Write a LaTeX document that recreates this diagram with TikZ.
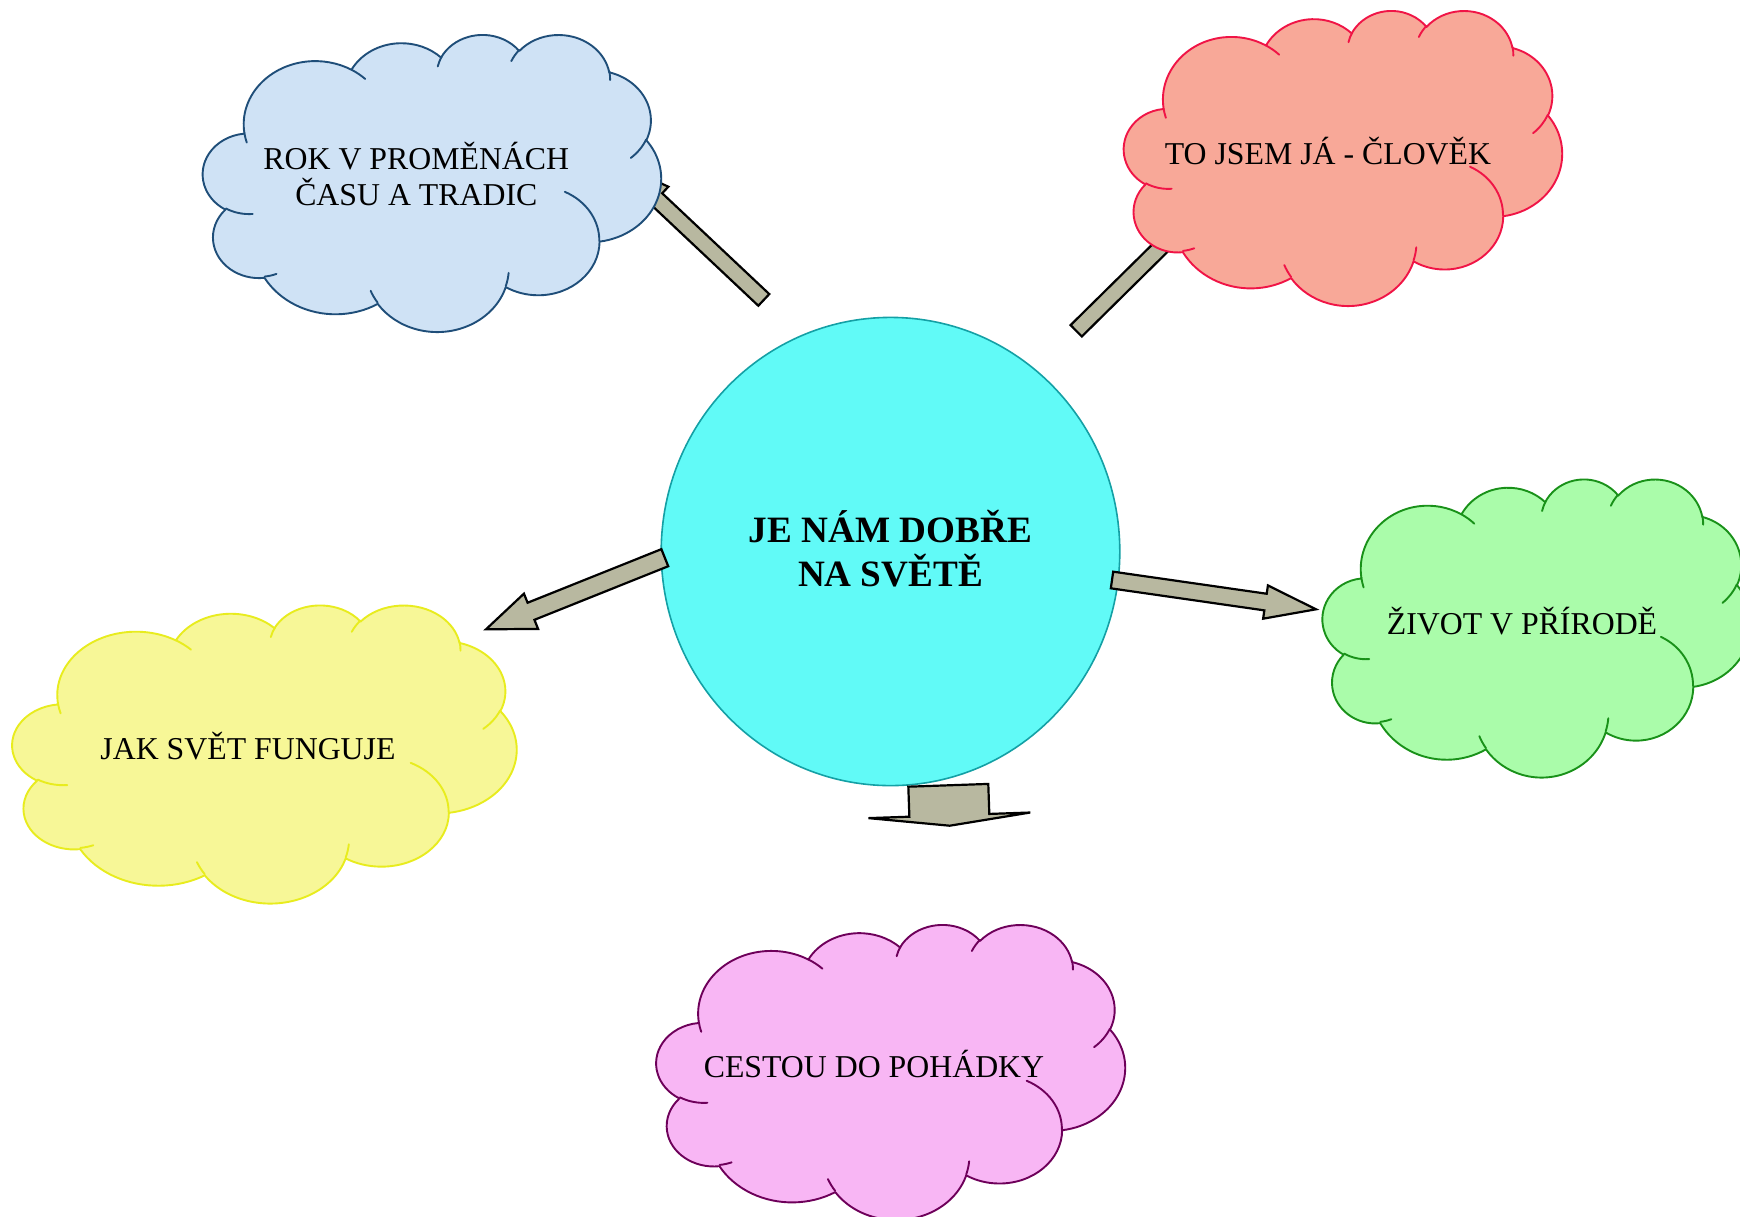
\documentclass[tikz,border=0pt]{standalone}
\usepackage{fontspec}
\setmainfont{Liberation Serif}
\usetikzlibrary{calc,shapes.geometric}
\definecolor{bluefill}{RGB}{207,226,245}
\definecolor{bluedraw}{RGB}{31,78,121}
\definecolor{salmonfill}{RGB}{248,168,152}
\definecolor{salmondraw}{RGB}{240,20,70}
\definecolor{greenfill}{RGB}{170,252,170}
\definecolor{greendraw}{RGB}{25,145,25}
\definecolor{yellowfill}{RGB}{247,247,151}
\definecolor{yellowdraw}{RGB}{232,236,30}
\definecolor{pinkfill}{RGB}{248,182,244}
\definecolor{pinkdraw}{RGB}{110,0,90}
\definecolor{cyanfill}{RGB}{97,250,247}
\definecolor{cyandraw}{RGB}{20,160,165}
\definecolor{arrowfill}{RGB}{184,184,160}
\tikzset{
  cloudtext/.style={font=\fontsize{31.8}{36.6}\selectfont, inner sep=0pt, align=center, text=black},
  maintext/.style={ellipse, draw=cyandraw, fill=cyanfill, line width=1.6pt,
    minimum width=458.6pt, minimum height=468.2pt, inner sep=0pt, align=center,
    font=\bfseries\fontsize{37.2}{43.3}\selectfont},
  blockarrow/.style={fill=arrowfill, draw=black, line width=2.2pt, line join=miter},
}
\newcommand\blockarr[5]{%
  \coordinate (tmpC) at ($(#2)!#5pt!(#1)$);
  \draw[blockarrow] ($(#1)!#3pt!90:(#2)$) -- ($(tmpC)!#3pt!90:(#2)$)
    -- ($(tmpC)!#4pt!90:(#2)$) -- (#2) -- ($(tmpC)!#4pt!-90:(#2)$)
    -- ($(tmpC)!#3pt!-90:(#2)$) -- ($(#1)!#3pt!-90:(#2)$) -- cycle;
}
\newcommand\cloudshape[6]{%
  \pgfmathsetmacro\cux{#3/43.2}%
  \pgfmathsetmacro\cuy{#4/43.2}%
  \begin{scope}[shift={(#1,#2)}, x=\cux pt, y=-\cuy pt, line width=1.9pt, line join=round]
    \filldraw[fill=#5, draw=#6] (3.9,14.37)
      arc[start angle=-187.746,end angle=-59.64,x radius=6.753,y radius=9.19]
      arc[start angle=-152.06,end angle=-45.447,x radius=5.333,y radius=7.267]
      arc[start angle=-153.49,end angle=-37.33,x radius=4.365,y radius=5.945]
      arc[start angle=-139.71,end angle=-10.21,x radius=4.857,y radius=6.595]
      arc[start angle=-74.77,end angle=23.21,x radius=5.333,y radius=7.273]
      arc[start angle=-37.53,end angle=81.86,x radius=6.775,y radius=9.22]
      arc[start angle=0.46,end angle=121.98,x radius=5.785,y radius=7.867]
      arc[start angle=16.84,end angle=146.23,x radius=6.752,y radius=9.215]
      arc[start angle=58.98,end angle=150.2,x radius=7.72,y radius=10.543]
      arc[start angle=-276.69,end angle=-136.9,x radius=4.36,y radius=5.918]
      arc[start angle=-239.65,end angle=-95.89,x radius=4.345,y radius=5.945]
      -- cycle;
    \draw[#6, line cap=round]
      (4.693,26.177) arc[start angle=85.55,end angle=120.35,x radius=4.345,y radius=5.945]
      (6.928,34.899) arc[start angle=68.24,end angle=83.31,x radius=4.36,y radius=5.918]
      (16.478,39.09) arc[start angle=146.23,end angle=158.47,x radius=6.752,y radius=9.215]
      (28.827,34.751) arc[start angle=4.74,end angle=16.84,x radius=6.752,y radius=9.215]
      (34.129,22.954) arc[start angle=-64.03,end angle=0.46,x radius=5.785,y radius=7.867]
      (41.798,15.354) arc[start angle=23.21,end angle=49.64,x radius=5.333,y radius=7.273]
      (38.324,5.426) arc[start angle=-10.21,end angle=0.82,x radius=4.857,y radius=6.595]
      (29.078,3.952) arc[start angle=-156.29,end angle=-139.71,x radius=4.857,y radius=6.595]
      (22.141,4.72) arc[start angle=-167.73,end angle=-153.49,x radius=4.365,y radius=5.945]
      (14,5.192) arc[start angle=-59.64,end angle=-45.73,x radius=6.753,y radius=9.19]
      (4.127,15.789) arc[start angle=163.2,end angle=172.25,x radius=6.753,y radius=9.19];
  \end{scope}}
\begin{document}
\begin{tikzpicture}[x=1pt,y=-1pt]
\useasboundingbox (0,0) rectangle (1740,1216);
\fill[white] (0,0) rectangle (1740,1216);
\clip (0,0) rectangle (1740,1216);

% central circle
\node[maintext] (main) at (890.5,551.5)
  {\rule{0pt}{37.2pt}JE NÁM DOBŘE\\NA SVĚTĚ\rule[-11.16pt]{0pt}{11.16pt}};

% arrow end points
\coordinate (a1s) at (763.8,299.9);  \coordinate (a1e) at (620.3,164.8);
\coordinate (a2s) at (1076.2,330.8); \coordinate (a2e) at (1216.4,192.4);
\coordinate (a3s) at (664.8,557.7);  \coordinate (a3e) at (486,629.3);
\coordinate (a4s) at (1112,580);     \coordinate (a4e) at (1316,609.3);
\coordinate (a5s) at (948.3,785.3);  \coordinate (a5e) at (949.7,825.7);

\blockarr{a1s}{a1e}{8}{17}{50}
\blockarr{a2s}{a2e}{8}{17}{50}
\blockarr{a3s}{a3e}{9.2}{19}{48.5}
\blockarr{a4s}{a4e}{8.4}{16.8}{51}
\blockarr{a5s}{a5e}{40}{81}{10.4}

% clouds
\cloudshape{203}{34}{458}{297}{bluefill}{bluedraw}
\cloudshape{1124}{10}{438}{295}{salmonfill}{salmondraw}
\cloudshape{1322.7}{478.5}{428}{298}{greenfill}{greendraw}
\cloudshape{12.5}{604.5}{504}{298}{yellowfill}{yellowdraw}
\cloudshape{656.5}{924}{468.5}{295}{pinkfill}{pinkdraw}

% cloud texts
\node[cloudtext] (tblue) at (416.3,176.4)
  {\rule{0pt}{31.8pt}ROK V PROMĚNÁCH\\ČASU A TRADIC\rule[-9.54pt]{0pt}{9.54pt}};
\node[cloudtext, anchor=base] (tsalmon) at (1328,164) {TO JSEM JÁ - ČLOVĚK};
\node[cloudtext, anchor=base] (tgreen) at (1522,634) {ŽIVOT V PŘÍRODĚ};
\node[cloudtext, anchor=base] (tyellow) at (248,759) {JAK SVĚT FUNGUJE};
\node[cloudtext, anchor=base] (tpink) at (874,1077) {CESTOU DO POHÁDKY};
\end{tikzpicture}
\end{document}
